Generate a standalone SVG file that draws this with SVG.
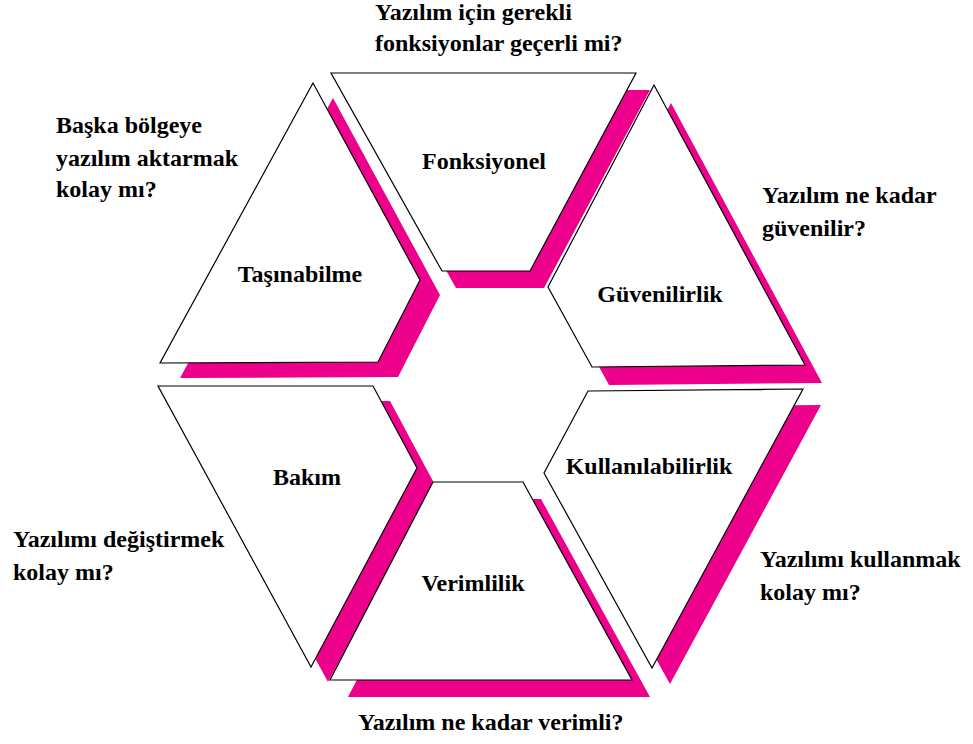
<svg xmlns="http://www.w3.org/2000/svg" width="973" height="744" viewBox="0 0 973 744">
<style>
.shadow{fill:#EC008C;stroke:none}
.shape{fill:#fff;stroke:#000;stroke-width:1.2;stroke-linejoin:miter}
.t{font-family:"Liberation Serif","Times New Roman",serif;font-weight:bold;font-size:24px;fill:#000}
.c{text-anchor:middle}
</style>
<rect width="973" height="744" fill="#fff"/>
<g id="tasinabilme">
<polygon class="shadow" transform="translate(20,15)" points="313,83 420,280 378,362 160,363"/>
<polygon class="shape" points="313,83 420,280 378,362 160,363"/>
<text class="t c" x="300" y="282">Taşınabilme</text>
</g>
<g id="bakim">
<polygon class="shadow" transform="translate(17,15)" points="158,386 373,386 417,468 311,667"/>
<polygon class="shape" points="158,386 373,386 417,468 311,667"/>
<text class="t c" x="307" y="485">Bakım</text>
</g>
<g id="fonksiyonel">
<polygon class="shadow" transform="translate(14,17)" points="331,73 636,73 530,271 442,271"/>
<polygon class="shape" points="331,73 636,73 530,271 442,271"/>
<text class="t c" x="484" y="169">Fonksiyonel</text>
</g>
<g id="verimlilik">
<polygon class="shadow" transform="translate(18,17)" points="433,482 523,482 632,680 330,680"/>
<polygon class="shape" points="433,482 523,482 632,680 330,680"/>
<text class="t c" x="473" y="591">Verimlilik</text>
</g>
<g id="guvenilirlik">
<polygon class="shadow" transform="translate(17,18)" points="654,85 805,365 592,367 548,287"/>
<polygon class="shape" points="654,85 805,365 592,367 548,287"/>
<text class="t c" x="660" y="302">Güvenilirlik</text>
</g>
<g id="kullanilabilirlik">
<polygon class="shadow" transform="translate(18,16)" points="588,391 803,389 652,668 544,473"/>
<polygon class="shape" points="588,391 803,389 652,668 544,473"/>
<text class="t c" x="649" y="474">Kullanılabilirlik</text>
</g>
<g id="labels">
<text class="t" x="375" y="20">Yazılım için gerekli</text>
<text class="t" x="375" y="51">fonksiyonlar geçerli mi?</text>
<text class="t" x="56" y="133">Başka bölgeye</text>
<text class="t" x="56" y="166">yazılım aktarmak</text>
<text class="t" x="56" y="197">kolay mı?</text>
<text class="t" x="762" y="203">Yazılım ne kadar</text>
<text class="t" x="762" y="236">güvenilir?</text>
<text class="t" x="13" y="547">Yazılımı değiştirmek</text>
<text class="t" x="13" y="580">kolay mı?</text>
<text class="t" x="760" y="567">Yazılımı kullanmak</text>
<text class="t" x="760" y="600">kolay mı?</text>
<text class="t" x="358" y="730">Yazılım ne kadar verimli?</text>
</g>
</svg>
